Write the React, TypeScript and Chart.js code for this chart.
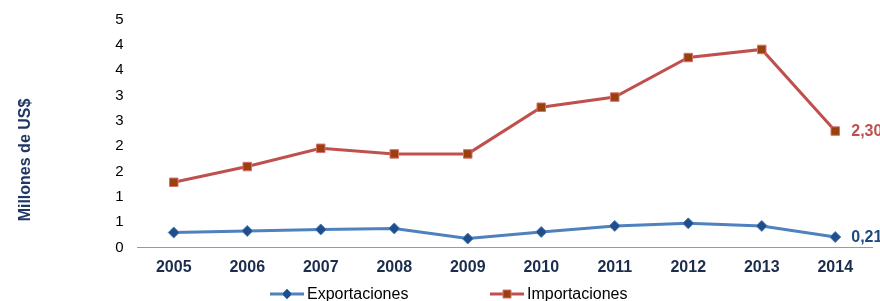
import { useEffect, useRef } from 'react';
import { Chart, registerables } from 'chart.js';

Chart.register(...registerables);

const categories = ['2005', '2006', '2007', '2008', '2009', '2010', '2011', '2012', '2013', '2014'];
const exportaciones = [0.3, 0.33, 0.36, 0.38, 0.18, 0.31, 0.43, 0.48, 0.43, 0.21];
const importaciones = [1.29, 1.6, 1.96, 1.85, 1.85, 2.77, 2.97, 3.75, 3.91, 2.3];
const seriesNames = ['Exportaciones', 'Importaciones'];
const lastValueLabels = ['0,21', '2,30'];
const yMin = 0;
const yMax = 4.5;
const yStep = 0.5;
const yTitle = 'Millones de US$';

const FONT = '"Liberation Sans", Arial, sans-serif';
const EXP_LINE = '#4F81BD';
const EXP_FILL = '#1F4E8A';
const IMP_LINE = '#C0504D';
const IMP_FILL = '#984010';
const IMP_BORDER = '#D9706E';
const NAVY = '#1F3864';

const extrasPlugin = {
  id: 'extras',
  afterDraw(chart: any) {
    const ctx = chart.ctx as CanvasRenderingContext2D;
    ctx.save();
    // Y title
    ctx.save();
    ctx.translate(30, 160);
    ctx.rotate(-Math.PI / 2);
    ctx.font = `bold 16px ${FONT}`;
    ctx.fillStyle = NAVY;
    ctx.textAlign = 'center';
    ctx.textBaseline = 'alphabetic';
    ctx.fillText(yTitle, 0, 0);
    ctx.restore();

    // last value labels
    const colors = ['#1F497D', IMP_LINE];
    chart.data.datasets.forEach((ds: any, i: number) => {
      const meta = chart.getDatasetMeta(i);
      const pt = meta.data[meta.data.length - 1];
      if (!pt) return;
      ctx.font = `bold 16px ${FONT}`;
      ctx.fillStyle = colors[i];
      ctx.textAlign = 'left';
      ctx.textBaseline = 'middle';
      ctx.fillText(lastValueLabels[i], pt.x + 16, pt.y + 1);
    });

    // legend
    const ly = 294;
    const items = [
      { x0: 270, x1: 304, tx: 307, line: EXP_LINE, fill: EXP_FILL, border: EXP_LINE, style: 'diamond' },
      { x0: 490, x1: 524, tx: 527, line: IMP_LINE, fill: IMP_FILL, border: IMP_BORDER, style: 'square' },
    ];
    items.forEach((it, i) => {
      ctx.strokeStyle = it.line;
      ctx.lineWidth = 3;
      ctx.beginPath();
      ctx.moveTo(it.x0, ly);
      ctx.lineTo(it.x1, ly);
      ctx.stroke();
      const cx = (it.x0 + it.x1) / 2;
      ctx.fillStyle = it.fill;
      ctx.strokeStyle = it.border;
      ctx.lineWidth = 1;
      ctx.beginPath();
      if (it.style === 'diamond') {
        const r = 5;
        ctx.moveTo(cx, ly - r);
        ctx.lineTo(cx + r, ly);
        ctx.lineTo(cx, ly + r);
        ctx.lineTo(cx - r, ly);
        ctx.closePath();
      } else {
        ctx.rect(cx - 4, ly - 4, 8, 8);
      }
      ctx.fill();
      ctx.stroke();
      ctx.font = `16px ${FONT}`;
      ctx.fillStyle = '#000000';
      ctx.textAlign = 'left';
      ctx.textBaseline = 'alphabetic';
      ctx.fillText(seriesNames[i], it.tx, ly + 4.5);
    });
    ctx.restore();
  },
};

export default function App() {
  const ref = useRef<HTMLCanvasElement | null>(null);
  useEffect(() => {
    document.body.style.margin = '0';
    if (!ref.current) return;
    const chart = new Chart(ref.current, {
      type: 'line',
      data: {
        labels: categories,
        datasets: [
          {
            label: seriesNames[0],
            data: exportaciones,
            borderColor: EXP_LINE,
            borderWidth: 3,
            pointStyle: 'rectRot',
            pointRadius: 5.5,
            pointBackgroundColor: EXP_FILL,
            pointBorderColor: EXP_LINE,
            pointBorderWidth: 1,
            tension: 0,
          },
          {
            label: seriesNames[1],
            data: importaciones,
            borderColor: IMP_LINE,
            borderWidth: 3,
            pointStyle: 'rect',
            pointRadius: 6,
            pointBackgroundColor: IMP_FILL,
            pointBorderColor: IMP_BORDER,
            pointBorderWidth: 1,
            tension: 0,
          },
        ],
      },
      options: {
        responsive: false,
        animation: false,
        layout: { padding: { left: 0, right: 8, top: 19.5, bottom: 0 } },
        plugins: { legend: { display: false }, tooltip: { enabled: false } },
        scales: {
          x: {
            offset: true,
            grid: { display: false, drawTicks: false },
            border: { display: true, color: '#9A9A9A', width: 1 },
            ticks: {
              padding: 10,
              color: '#1C2C4C',
              font: { family: FONT, size: 16, weight: 'bold' },
              maxRotation: 0,
            },
            afterFit: (s: any) => {
              s.height = 53.3;
            },
          },
          y: {
            min: yMin,
            max: yMax,
            grid: { display: false, drawTicks: false },
            border: { display: false },
            ticks: {
              stepSize: yStep,
              padding: 13.5,
              color: '#000000',
              font: { family: FONT, size: 15 },
              callback: (v: any) => String(Math.round(Number(v) + 1e-9)),
            },
            afterFit: (s: any) => {
              s.width = 137;
              s.paddingTop = 0;
            },
          },
        },
      },
      plugins: [extrasPlugin],
    });
    return () => chart.destroy();
  }, []);
  return <canvas ref={ref} width={880} height={301} style={{ display: 'block' }} />;
}
